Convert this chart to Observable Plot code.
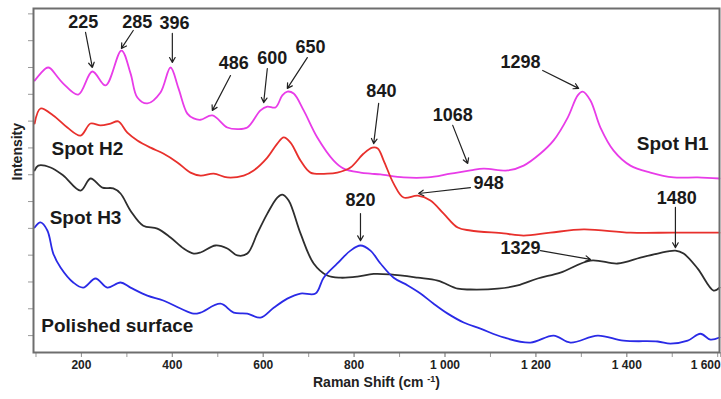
<!DOCTYPE html>
<html>
<head>
<meta charset="utf-8">
<script src="https://cdn.jsdelivr.net/npm/d3@7"></script>
<script src="https://cdn.jsdelivr.net/npm/@observablehq/plot@0.6"></script>
<style>
  body { margin: 0; background: #fff; }
  #chart svg { font-family: "Liberation Sans", Arial, sans-serif; }
</style>
</head>
<body>
<div id="chart"></div>
<script>
// Raman spectra: [Raman shift (cm-1), intensity (a.u., offset per spot)]
const spotH1 = [
  [97,9.51],[121,9.96],[127,10.0],[132,9.96],[160,9.40],[193,8.99],[224,9.85],[253,9.33],
  [288,10.63],[308,9.78],[323,8.88],[345,8.66],[374,9.07],[396,10.0],[413,9.25],[433,8.28],
  [447,8.10],[462,8.05],[488,8.21],[521,7.76],[543,7.70],[565,7.76],[594,8.40],[609,8.54],
  [627,8.51],[642,8.96],[653,9.10],[667,9.03],[689,8.40],[719,7.39],[755,6.53],[777,6.23],
  [814,6.08],[836,6.04],[858,6.01],[909,5.90],[962,5.90],[1012,6.04],[1056,6.16],[1085,6.23],
  [1138,6.16],[1173,6.34],[1210,6.79],[1239,7.28],[1270,8.13],[1292,8.96],[1303,9.10],
  [1320,8.77],[1342,7.76],[1371,6.90],[1408,6.34],[1452,6.08],[1503,5.90],[1556,5.90],[1604,5.86]
];
const spotH2 = [
  [97,7.91],[110,8.47],[138,8.21],[169,7.76],[198,7.46],[220,7.91],[242,7.84],[264,7.91],
  [281,7.99],[301,7.57],[323,7.28],[352,7.01],[380,6.79],[411,6.46],[440,6.08],[462,5.97],
  [491,6.04],[521,5.90],[557,5.97],[579,6.16],[609,6.64],[631,7.16],[645,7.39],[660,7.20],
  [682,6.53],[704,6.08],[741,6.04],[763,6.08],[792,6.27],[821,6.79],[840,7.01],[852,6.98],
  [865,6.53],[887,5.67],[909,5.15],[940,5.22],[968,5.04],[997,4.55],[1028,4.03],[1056,3.92],
  [1129,3.81],[1173,3.73],[1232,3.84],[1305,3.96],[1408,3.84],[1503,3.84],[1604,3.84]
];
const spotH3 = [
  [97,6.16],[105,6.34],[132,6.27],[160,5.97],[198,5.41],[220,5.86],[246,5.52],[270,5.49],
  [286,5.30],[308,4.66],[336,4.10],[367,3.99],[396,3.66],[425,3.25],[447,3.06],[462,3.10],
  [495,3.36],[521,3.25],[543,2.99],[565,3.06],[587,3.81],[609,4.55],[631,5.15],[642,5.26],
  [656,5.04],[682,3.81],[711,2.69],[741,2.24],[770,2.16],[807,2.20],[843,2.30],[880,2.28],
  [940,2.16],[984,2.05],[1028,1.75],[1056,1.72],[1116,1.75],[1160,1.87],[1204,2.13],
  [1254,2.35],[1320,2.80],[1380,2.69],[1430,2.91],[1468,3.06],[1507,3.17],[1525,3.06],
  [1556,2.50],[1591,1.68],[1604,1.79]
];
const polished = [
  [97,4.03],[110,4.22],[125,3.92],[138,3.06],[154,2.54],[182,1.98],[204,1.79],[231,2.13],
  [257,1.79],[286,1.98],[308,1.79],[345,1.49],[380,1.31],[418,1.01],[447,0.82],[462,0.86],
  [506,1.19],[535,0.86],[565,0.82],[594,0.67],[623,1.04],[653,1.38],[682,1.57],[715,1.57],
  [733,2.16],[763,2.69],[792,3.17],[814,3.36],[836,3.17],[858,2.69],[887,2.16],[918,1.87],
  [946,1.57],[975,1.19],[1006,0.82],[1041,0.49],[1078,0.26],[1129,-0.07],[1188,-0.26],
  [1239,0.00],[1276,-0.26],[1336,0.00],[1393,-0.19],[1468,-0.22],[1496,-0.30],[1534,-0.19],
  [1562,0.07],[1584,-0.15],[1604,-0.07]
];

// Band assignments (cm-1): label position and arrow from label to band
const bandLabels = ["225","285","396","486","600","650","840","1068","1298","948","1329","1480","820"];
const bandLabelX = [204,323,405,535,620,704,860,1017,1166,1096,1166,1510,814];
const bandLabelY = [11.68,11.68,11.64,10.15,10.34,10.75,9.10,8.21,10.19,5.67,3.25,5.11,5.04];
const arrowX1 = [209,314,400,528,609,697,854,1017,1215,1056,1210,1507,814];
const arrowY1 = [11.31,11.38,11.27,9.70,9.96,10.37,8.66,7.84,9.89,5.52,3.17,4.78,4.55];
const arrowX2 = [224,288,400,488,601,653,843,1050,1294,942,1320,1507,814];
const arrowY2 = [10.0,10.71,10.19,8.40,8.69,9.22,7.16,6.42,9.22,5.30,2.84,3.28,3.54];

// Spectrum names
const spotNames = ["Spot H1","Spot H2","Spot H3","Polished surface"];
const spotNameX = [1501,213,209,279];
const spotNameY = [7.16,6.98,4.40,0.37];

const xMajorTicks = d3.range(200, 1401, 200);
const xLastTick = [1600];
const xMinorTicks = d3.range(100, 1601, 100);
const yTicks = d3.range(0, 13, 1);

const fmt = d3.formatLocale({decimal: ".", thousands: " ", grouping: [3], currency: ["", ""]}).format(",d");

const series = [
  {data: spotH1, color: "#e83ce8"},
  {data: spotH2, color: "#e8302c"},
  {data: spotH3, color: "#2e2e2e"},
  {data: polished, color: "#2a2ae6"}
];

const bands = bandLabels.map((t, i) => ({
  t, tx: bandLabelX[i], ty: bandLabelY[i],
  x1: arrowX1[i], y1: arrowY1[i], x2: arrowX2[i], y2: arrowY2[i]
}));
const names = spotNames.map((t, i) => ({t, x: spotNameX[i], y: spotNameY[i]}));

const chart = Plot.plot({
  width: 721,
  height: 399,
  marginLeft: 33,
  marginRight: 2,
  marginTop: 8,
  marginBottom: 47,
  style: {fontFamily: "Liberation Sans, Arial, sans-serif", fontWeight: "bold", color: "#222", background: "#fff"},
  x: {domain: [94.5, 1604]},
  y: {domain: [-0.63, 12.2]},
  marks: [
    Plot.axisY({ticks: yTicks, tickSize: 5, text: null, label: null, stroke: "#999"}),
    Plot.axisX({ticks: xMinorTicks, tickSize: 5, text: null, label: null, stroke: "#999"}),
    Plot.axisX({ticks: xMajorTicks, tickSize: 5, tickPadding: 3, tickFormat: fmt, label: null, fontSize: 12, stroke: "#999"}),
    Plot.axisX({ticks: xLastTick, tickSize: 5, tickPadding: 3, tickFormat: fmt, label: null, fontSize: 12, stroke: "#999", textAnchor: "end", dx: 3}),
    ...series.map(s => Plot.line(s.data, {x: d => d[0], y: d => d[1], stroke: s.color, strokeWidth: 1.8, curve: "catmull-rom"})),
    Plot.arrow(bands, {x1: "x1", y1: "y1", x2: "x2", y2: "y2", stroke: "#222", strokeWidth: 1.2, headLength: 7}),
    Plot.text(bands, {x: "tx", y: "ty", text: "t", fontSize: 18, fontWeight: "bold", fill: "#1a1a1a"}),
    Plot.text(names, {x: "x", y: "y", text: "t", fontSize: 19, fontWeight: "bold", fill: "#1a1a1a"}),
    Plot.text(["Intensity"], {frameAnchor: "left", dx: -16, rotate: -90, fontSize: 14, fontWeight: "bold", fill: "#222"}),
    Plot.text(["Raman Shift (cm-1)"], {frameAnchor: "bottom", dy: 34, fontSize: 14, fontWeight: "bold", fill: "#222"}),
    Plot.frame({stroke: "#6e6e6e", strokeWidth: 2})
  ]
});

// superscript exponent in the x-axis title
d3.select(chart).selectAll("text")
  .filter(function() { return this.textContent === "Raman Shift (cm-1)"; })
  .each(function() {
    const t = d3.select(this);
    t.text("Raman Shift (cm ");
    t.append("tspan").attr("dy", "-5").attr("font-size", 9).text("-1");
    t.append("tspan").attr("dy", "5").text(")");
  });

document.getElementById("chart").appendChild(chart);
</script>
</body>
</html>
